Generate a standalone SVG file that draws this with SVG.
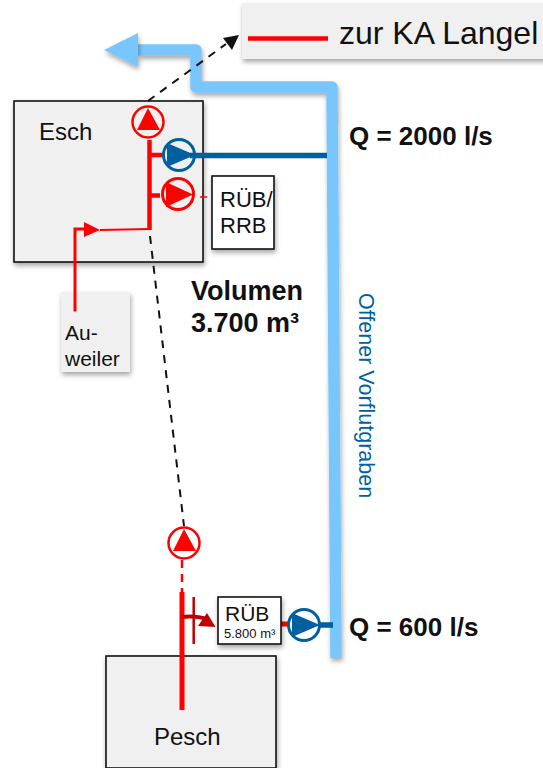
<svg xmlns="http://www.w3.org/2000/svg" width="543" height="768" viewBox="0 0 543 768">
<defs>
<filter id="sh" x="-20%" y="-20%" width="140%" height="140%"><feDropShadow dx="1" dy="3" stdDeviation="2.5" flood-color="#000" flood-opacity="0.35"/></filter>
</defs>
<style>
text{font-family:"Liberation Sans",Arial,sans-serif;fill:#111}
.b{font-weight:bold}
.box{fill:#f0f0f0;stroke:#111;stroke-width:1.6}
.w{fill:#fff;stroke:#111;stroke-width:1.6}
.red{stroke:#f00;fill:none}
.blue{stroke:#005f9f;fill:none}
.dash{stroke:#111;stroke-width:2;stroke-dasharray:8 7;fill:none}
</style>
<rect width="543" height="768" fill="#fff"/>
<g id="legend"><rect x="242" y="3" width="310" height="56" fill="#f0f0f0" filter="url(#sh)"/><line x1="248" y1="38.500" x2="328" y2="38.500" stroke="#f00" stroke-width="4.500"/><text x="339" y="44" font-size="32">zur KA Langel</text></g>
<g id="esch"><rect class="box" x="14" y="101" width="189" height="161" filter="url(#sh)"/><text x="39" y="140" font-size="24">Esch</text></g>
<g id="pesch"><rect class="box" x="106" y="656" width="170" height="112" filter="url(#sh)"/><text x="154" y="745" font-size="24">Pesch</text></g>
<g id="auweiler"><rect x="61" y="292" width="69" height="80" fill="#f0f0f0" filter="url(#sh)"/><text x="65" y="340" font-size="21">Au-</text><text x="65" y="366" font-size="21">weiler</text></g>
<g id="connectors">
<path d="M336 658L332 87H196V50H138" fill="none" stroke="#79c6fc" stroke-width="11.500" stroke-linejoin="round" filter="url(#sh)"/>
<path d="M104 50L138 33V67Z" fill="#79c6fc" filter="url(#sh)"/>
<path class="dash" d="M148 101L226 44"/><path d="M239 35L223 38L232 50Z" fill="#111"/>
<path class="dash" d="M150 236L184 526"/>
<line x1="182" y1="560" x2="182" y2="592" stroke="#f00" stroke-width="2.500" stroke-dasharray="8 6"/>
<path class="red" stroke-width="4.500" d="M149.500 140V230M150 155H164M150 195.500H160"/>
<path class="red" stroke-width="2" d="M100 230L150 229"/>
<path class="red" stroke-width="3" d="M75 311.500V229H90"/><path d="M84 222L100 230L84 237Z" fill="#f00"/>
<line x1="200" y1="197" x2="218" y2="197" stroke="#f00" stroke-width="1.500" stroke-dasharray="7 5"/>
<path class="blue" stroke-width="5.500" d="M190 155.500H327M318 625H333"/>
<path class="red" stroke-width="5" d="M182 592V710M277 624H290"/>
<path d="M193.700 597V644" stroke="#c00000" stroke-width="2.500" fill="none"/>
<path d="M181 617C190 616 198 616 207 619" stroke="#c00000" stroke-width="4" fill="none"/><path d="M207 613L215.500 627L198 626Z" fill="#c00000"/>
</g>
<g id="pump1"><circle class="red" stroke-width="2.500" cx="148" cy="122" r="15.500" fill="#fff"/><path d="M148 108L137 130H160Z" fill="#f00"/></g>
<g id="pump2"><circle class="blue" stroke-width="3" cx="179" cy="155" r="15.500" fill="#fff"/><path d="M167 143L195 155L167 167Z" fill="#005f9f"/></g>
<g id="pump3"><circle class="red" stroke-width="3" cx="178" cy="194" r="15.500" fill="#fff"/><path d="M166 182L193 194.500L166 207Z" fill="#f00"/></g>
<g id="pump4"><circle class="red" stroke-width="2.500" cx="184" cy="543" r="15.500" fill="#fff"/><path d="M184 529L173 551H196Z" fill="#f00"/></g>
<g id="pump5"><circle class="blue" stroke-width="3" cx="304" cy="625" r="15.500" fill="#fff"/><path d="M292 613L320 625L292 637Z" fill="#005f9f"/></g>
<g id="rrb"><rect class="w" x="212" y="176" width="62" height="73" filter="url(#sh)"/><text x="220" y="207" font-size="22">RÜB/</text><text x="220" y="233" font-size="22">RRB</text></g>
<g id="rub"><rect class="w" x="218" y="597" width="63" height="47" filter="url(#sh)"/><text x="225" y="621" font-size="21">RÜB</text><text x="224" y="638" font-size="13">5.800 m³</text></g>
<g id="labels">
<text class="b" x="349" y="145" font-size="26">Q = 2000 l/s</text>
<text class="b" x="349" y="636" font-size="26">Q = 600 l/s</text>
<text class="b" x="191" y="300" font-size="27">Volumen</text>
<text class="b" x="191" y="332" font-size="27">3.700 m³</text>
<text transform="translate(359 293) rotate(90)" font-size="21.500" style="fill:#005f9f">Offener Vorflutgraben</text>
</g>
</svg>
